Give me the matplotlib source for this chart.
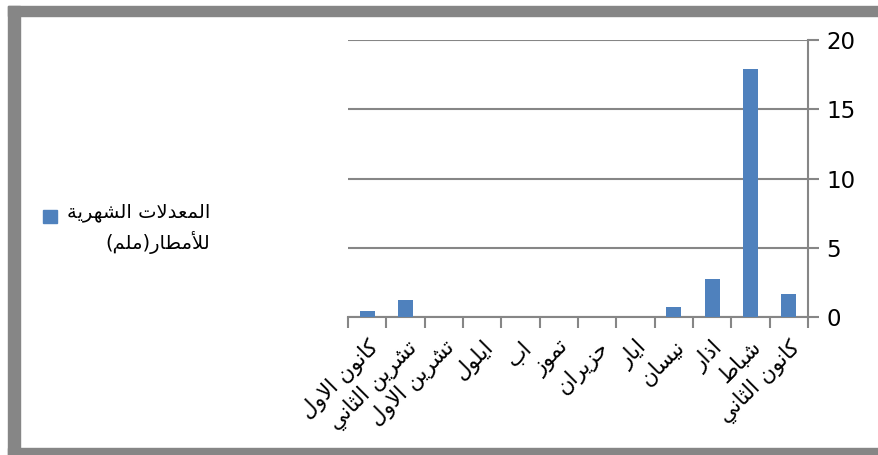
import matplotlib
matplotlib.use("Agg")
import matplotlib.pyplot as plt
from matplotlib.patches import Rectangle

# monthly rainfall (mm), logical order Jan..Dec (drawn right-to-left)
months = ["كانون الثاني", "شباط", "اذار", "نيسان", "ايار", "حزيران",
          "تموز", "اب", "ايلول", "تشرين الاول", "تشرين الثاني", "كانون الاول"]
rain = [1.65, 17.9, 2.75, 0.75, 0, 0, 0, 0, 0, 0, 1.25, 0.45]
series_name = "المعدلات الشهرية\nللأمطار(ملم)"
yticks = [0, 5, 10, 15, 20]

# --- tiny arabic shaper (matplotlib has no complex text layout) ---
# base codepoint of presentation form: isolated, final, initial, medial
DUAL = {"ب": 0xFE8F, "ت": 0xFE95, "ث": 0xFE99, "ح": 0xFEA1,
        "س": 0xFEB1, "ش": 0xFEB5, "ط": 0xFEC1, "ع": 0xFEC9, "ك": 0xFED9,
        "ل": 0xFEDD, "م": 0xFEE1, "ن": 0xFEE5, "ه": 0xFEE9, "ي": 0xFEF1}
RIGHT = {"ا": 0xFE8D, "أ": 0xFE83, "ة": 0xFE93, "د": 0xFEA9, "ذ": 0xFEAB,
         "ر": 0xFEAD, "ز": 0xFEAF, "و": 0xFEED}
LAMALEF = {"ا": (0xFEFB, 0xFEFC), "أ": (0xFEF7, 0xFEF8)}
MIRROR = {"(": ")", ")": "("}


def joins(c):
    return c in DUAL or c in RIGHT


def shape(text):
    out_lines = []
    for line in text.split("\n"):
        chars = list(line)
        res = []
        i = 0
        while i < len(chars):
            c = chars[i]
            prev = chars[i - 1] if i > 0 else ""
            link_prev = prev in DUAL
            if c == "ل" and i + 1 < len(chars) and chars[i + 1] in LAMALEF:
                iso, fin = LAMALEF[chars[i + 1]]
                res.append(chr(fin if link_prev else iso))
                i += 2
                continue
            nxt = chars[i + 1] if i + 1 < len(chars) else ""
            if c in DUAL:
                link_next = joins(nxt)
                base = DUAL[c]
                if link_prev and link_next:
                    res.append(chr(base + 3))
                elif link_prev:
                    res.append(chr(base + 1))
                elif link_next:
                    res.append(chr(base + 2))
                else:
                    res.append(chr(base))
            elif c in RIGHT:
                res.append(chr(RIGHT[c] + (1 if link_prev else 0)))
            else:
                res.append(MIRROR.get(c, c))
            i += 1
        out_lines.append("".join(reversed(res)))
    return "\n".join(out_lines)


plt.rcParams["font.family"] = ["DejaVu Sans"]
grey = "#868686"
blue = "#4f81bd"

fig = plt.figure(figsize=(8.79, 4.55), dpi=100)
W, H = 879, 455

# outer frame (gray border of the chart object)
for x0, y0, w, h in [(8, 6, 12, 449), (8, 6, 871, 10), (8, 448, 871, 7)]:
    fig.patches.append(Rectangle((x0 / W, 1 - (y0 + h) / H), w / W, h / H,
                                 transform=fig.transFigure, color=grey,
                                 zorder=0))

ax = fig.add_axes([348 / W, 1 - 317 / H, 460 / W, 277 / H])
x = list(range(len(months)))
ax.bar(x, rain, width=0.39, color=blue, zorder=3)
ax.set_xlim(len(months) - 0.5, -0.5)
ax.set_ylim(0, 20)

ax.yaxis.tick_right()
ax.set_yticks(yticks)
ax.set_yticklabels([str(v) for v in yticks], fontsize=16.5)
ax.tick_params(axis="y", length=8, width=1.5, color=grey, pad=5)
ax.grid(axis="y", color=grey, linewidth=1.5, zorder=0)

ax.set_xticks([i - 0.5 for i in range(len(months) + 1)])
ax.set_xticklabels([])
ax.tick_params(axis="x", length=8, width=1.5, color=grey, direction="out")
ax.set_xticks(x, minor=True)
ax.set_xticklabels([shape(m) for m in months], minor=True, rotation=45,
                   ha="right", va="top", rotation_mode="anchor", fontsize=15.5)
ax.tick_params(axis="x", which="minor", length=0, pad=14)

for s in ["top", "left"]:
    ax.spines[s].set_visible(False)
for s in ["right", "bottom"]:
    ax.spines[s].set_color(grey)
    ax.spines[s].set_linewidth(1.5)

# legend
fig.patches.append(Rectangle((43 / W, 1 - 223 / H), 14 / W, 13 / H,
                             transform=fig.transFigure, color=blue))
fig.text(210 / W, 1 - 203 / H, shape(series_name), ha="right", va="top",
         multialignment="right", fontsize=14, linespacing=1.5)

fig.savefig("out.png", dpi=100)
